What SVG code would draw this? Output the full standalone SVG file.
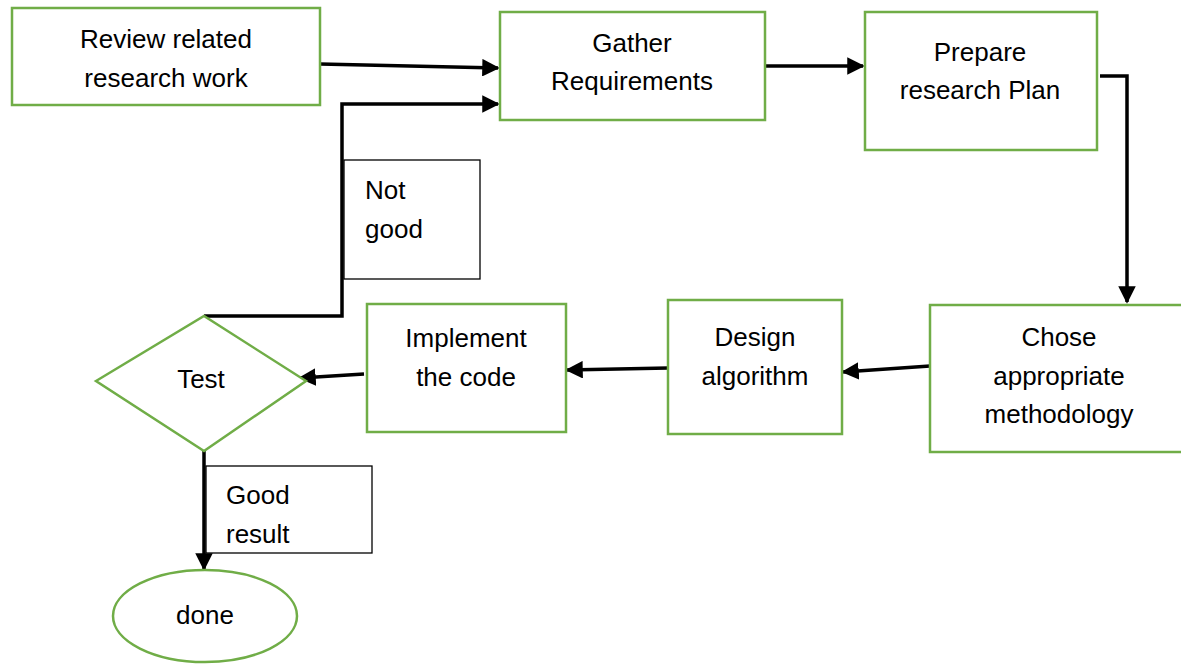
<svg xmlns="http://www.w3.org/2000/svg" width="1181" height="672" viewBox="0 0 1181 672">
<style>
.n{fill:#fff;stroke:#70AD47;stroke-width:2.5}
.lb{fill:#fff;stroke:#000;stroke-width:1.3}
.t{font-family:"Liberation Sans",Arial,sans-serif;font-size:26px;fill:#000}
.c{text-anchor:middle}
.e{fill:none;stroke:#000;stroke-width:3.5}
</style>
<defs>
<marker id="ah" markerWidth="5" markerHeight="5" refX="4.5" refY="2.5" orient="auto" markerUnits="strokeWidth">
<path d="M0,0 L5,2.5 L0,5 z" fill="#000"/>
</marker>
</defs>
<rect width="1181" height="672" fill="#fff"/>
<g id="connectors">
<path class="e" d="M320,64 L498,68" marker-end="url(#ah)"/>
<path class="e" d="M765,66 L863,66" marker-end="url(#ah)"/>
<path class="e" d="M1100,76 L1127,76 L1127,302" marker-end="url(#ah)"/>
<path class="e" d="M930,366 L843,372" marker-end="url(#ah)"/>
<path class="e" d="M668,368 L567,370" marker-end="url(#ah)"/>
<path class="e" d="M364,374 L300,378" marker-end="url(#ah)"/>
<path class="e" d="M204,316 L342,316 L342,104 L498,104" marker-end="url(#ah)"/>
<path class="e" d="M204,451 L204,569" marker-end="url(#ah)"/>
</g>
<g id="label-notgood">
<rect class="lb" x="344" y="160" width="136" height="119"/>
<text class="t" x="365" y="199">Not</text>
<text class="t" x="365" y="238">good</text>
</g>
<g id="label-goodresult">
<rect class="lb" x="206" y="466" width="166" height="87"/>
<text class="t" x="226" y="504">Good</text>
<text class="t" x="226" y="543">result</text>
</g>
<g id="review">
<rect class="n" x="12" y="8" width="308" height="97"/>
<text class="t c" x="166" y="48">Review related</text>
<text class="t c" x="166" y="87">research work</text>
</g>
<g id="gather">
<rect class="n" x="500" y="12" width="265" height="108"/>
<text class="t c" x="632" y="52">Gather</text>
<text class="t c" x="632" y="90">Requirements</text>
</g>
<g id="prepare">
<rect class="n" x="865" y="12" width="232" height="138"/>
<text class="t c" x="980" y="61">Prepare</text>
<text class="t c" x="980" y="99">research Plan</text>
</g>
<g id="chose">
<rect class="n" x="930" y="305" width="253" height="147"/>
<text class="t c" x="1059" y="346">Chose</text>
<text class="t c" x="1059" y="385">appropriate</text>
<text class="t c" x="1059" y="423">methodology</text>
</g>
<g id="design">
<rect class="n" x="668" y="300" width="174" height="134"/>
<text class="t c" x="755" y="346">Design</text>
<text class="t c" x="755" y="385">algorithm</text>
</g>
<g id="implement">
<rect class="n" x="367" y="304" width="199" height="128"/>
<text class="t c" x="466" y="347">Implement</text>
<text class="t c" x="466" y="386">the code</text>
</g>
<g id="test">
<polygon class="n" points="96,381 204,316 306,381 204,451"/>
<text class="t c" x="201" y="388">Test</text>
</g>
<g id="done">
<ellipse class="n" cx="205" cy="616" rx="92" ry="46"/>
<text class="t c" x="205" y="624">done</text>
</g>
</svg>
